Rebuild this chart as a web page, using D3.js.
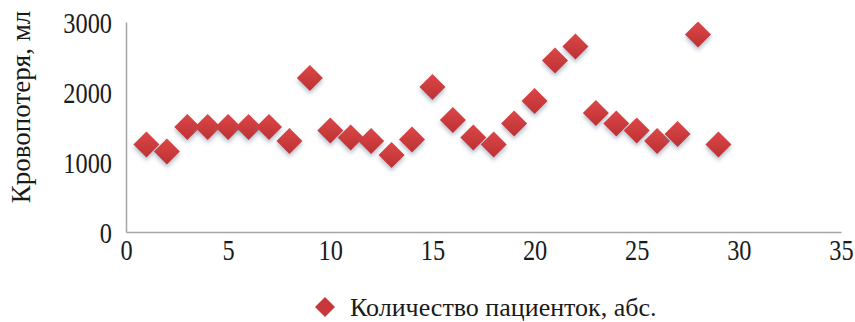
<!DOCTYPE html>
<html>
<head>
<meta charset="utf-8">
<script src="https://cdn.jsdelivr.net/npm/d3@7"></script>
<style>
  html, body { margin: 0; padding: 0; background: #fff; }
  svg { display: block; }
  text { font-family: "Liberation Serif", "Times New Roman", serif; fill: #1a1a1a; }
</style>
</head>
<body>
<svg id="chart" width="855" height="322"></svg>
<script>
// Patient number (x) and blood loss in ml (y)
const patients = d3.range(1, 30);
const bloodLoss = [
  1250, 1150, 1500, 1500, 1500, 1500, 1500, 1300, 2200, 1450,
  1350, 1300, 1100, 1320, 2070, 1600, 1350, 1250, 1550, 1870,
  2450, 2650, 1700, 1550, 1450, 1300, 1400, 2820, 1250
];
const xTicks = [0, 5, 10, 15, 20, 25, 30, 35];
const yTicks = [0, 1000, 2000, 3000];
const yTitle = "Кровопотеря, мл";
const seriesName = "Количество пациенток, абс.";

const svg = d3.select("#chart");
const margin = { left: 126, right: 14, top: 22, bottom: 90 };
const W = 855, H = 322;

const x = d3.scaleLinear().domain([0, 35]).range([margin.left, W - margin.right]);
const y = d3.scaleLinear().domain([0, 3000]).range([H - margin.bottom, margin.top]);

const defs = svg.append("defs");
const grad = defs.append("linearGradient")
  .attr("id", "markerFill").attr("x1", 0).attr("y1", 0).attr("x2", 0).attr("y2", 1);
grad.append("stop").attr("offset", "0%").attr("stop-color", "#dc4748");
grad.append("stop").attr("offset", "100%").attr("stop-color", "#bc3133");

const shadow = defs.append("filter").attr("id", "shadow")
  .attr("x", "-50%").attr("y", "-50%").attr("width", "200%").attr("height", "200%");
shadow.append("feGaussianBlur").attr("in", "SourceAlpha").attr("stdDeviation", 2.2).attr("result", "b");
shadow.append("feOffset").attr("in", "b").attr("dx", 0).attr("dy", 3).attr("result", "o");
shadow.append("feFlood").attr("flood-color", "#6d7f99").attr("flood-opacity", 0.5);
shadow.append("feComposite").attr("in2", "o").attr("operator", "in").attr("result", "s");
const merge = shadow.append("feMerge");
merge.append("feMergeNode").attr("in", "s");
merge.append("feMergeNode").attr("in", "SourceGraphic");

// Axes (tick numerals are set in a slightly condensed serif)
const xAxis = d3.axisBottom(x).tickValues(xTicks).tickSize(0);
const yAxis = d3.axisLeft(y).tickValues(yTicks).tickSize(0).tickFormat(d3.format("d"));

const gx = svg.append("g").attr("transform", `translate(0,${y(0)})`).call(xAxis);
const gy = svg.append("g").attr("transform", `translate(${x(0)},0)`).call(yAxis);
[gx, gy].forEach(g => {
  g.attr("font-family", null).attr("font-size", null);
  g.select(".domain").attr("stroke", "#a6a6a6").attr("stroke-width", 1.5);
  g.selectAll("text").style("font-size", "29px").attr("fill", "#1a1a1a")
    .attr("x", 0).attr("y", 0).attr("dy", null);
});
gx.selectAll("text").attr("transform", "translate(0,28) scale(0.84,1)");
gy.selectAll("text").attr("transform", "translate(-14,10) scale(0.84,1)");

// Y axis title
svg.append("text")
  .attr("transform", "translate(30,107) rotate(-90)")
  .attr("text-anchor", "middle")
  .style("font-size", "27px")
  .text(yTitle);

// Diamond markers
const diamond = s => `M0,${-s}L${s},0L0,${s}L${-s},0Z`;
svg.append("g").selectAll("path")
  .data(patients.map((p, i) => [p, bloodLoss[i]]))
  .join("path")
  .attr("transform", d => `translate(${x(d[0])},${y(d[1])})`)
  .attr("d", diamond(13))
  .attr("fill", "url(#markerFill)")
  .attr("filter", "url(#shadow)");

// Legend
const lg = svg.append("g").attr("transform", "translate(325,307)");
lg.append("path").attr("d", diamond(10)).attr("fill", "#c8383a");
lg.append("text").attr("x", 25).attr("y", 9).style("font-size", "26px").text(seriesName);
</script>
</body>
</html>
